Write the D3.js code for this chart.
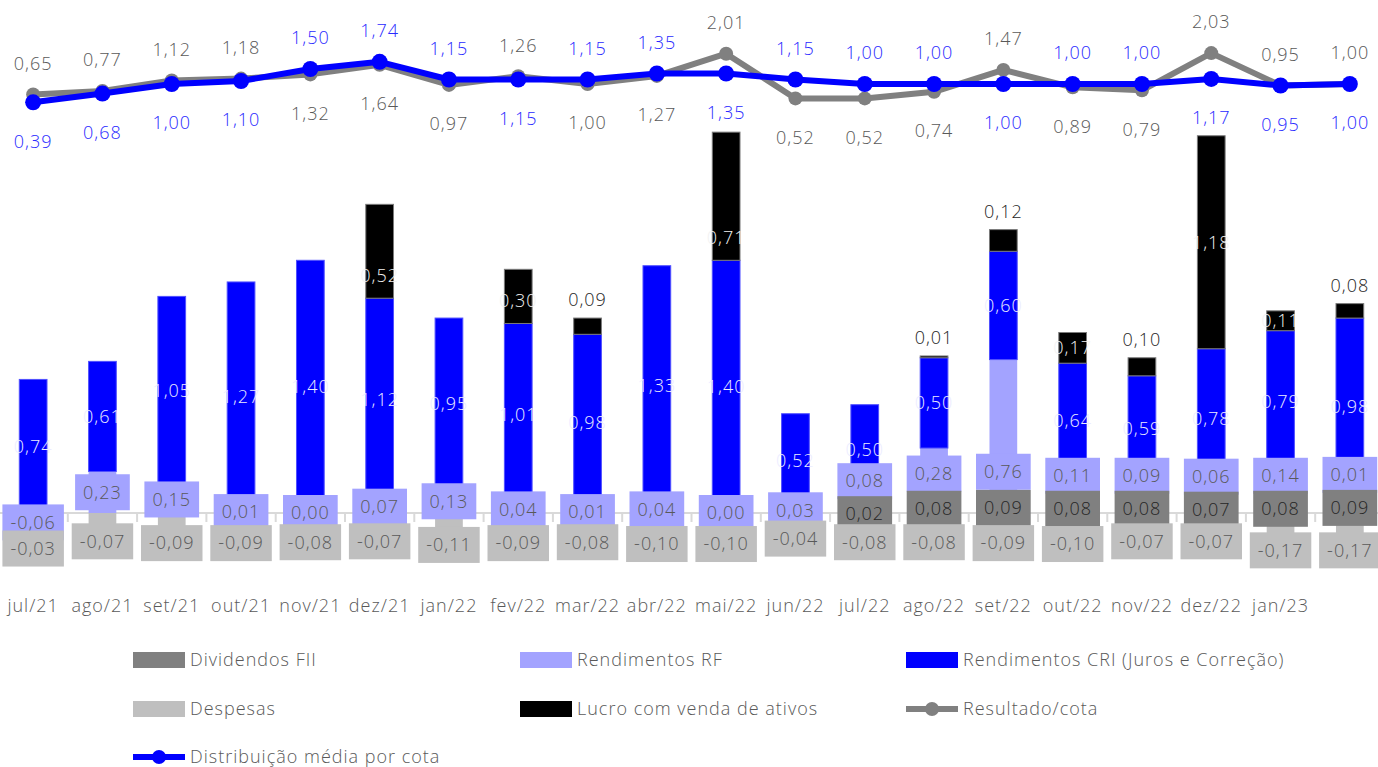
<!DOCTYPE html>
<html><head><meta charset="utf-8">
<script src="https://cdn.jsdelivr.net/npm/d3@7"></script>
<style>body{margin:0;background:#fff;} svg{display:block;font-family:'Open Sans',Lato,sans-serif;font-weight:300;letter-spacing:1px;}</style>
</head><body><svg id="c" width="1378" height="767"></svg>
<script>
const categories = ["jul/21","ago/21","set/21","out/21","nov/21","dez/21","jan/22","fev/22","mar/22","abr/22","mai/22","jun/22","jul/22","ago/22","set/22","out/22","nov/22","dez/22","jan/23","fev/23"];
const tickLabels = ["jul/21","ago/21","set/21","out/21","nov/21","dez/21","jan/22","fev/22","mar/22","abr/22","mai/22","jun/22","jul/22","ago/22","set/22","out/22","nov/22","dez/22","jan/23",""];
const dividendosFII = [null,null,null,null,null,null,null,null,null,null,null,null,0.02,0.08,0.09,0.08,0.08,0.07,0.08,0.09];
const rendimentosRF = [-0.06,0.23,0.15,0.01,0.00,0.07,0.13,0.04,0.01,0.04,0.00,0.03,0.08,0.28,0.76,0.11,0.09,0.06,0.14,0.01];
const rendimentosCRI = [0.74,0.61,1.05,1.27,1.40,1.12,0.95,1.01,0.98,1.33,1.40,0.52,0.50,0.50,0.60,0.64,0.59,0.78,0.79,0.98];
const despesas = [-0.03,-0.07,-0.09,-0.09,-0.08,-0.07,-0.11,-0.09,-0.08,-0.10,-0.10,-0.04,-0.08,-0.08,-0.09,-0.10,-0.07,-0.07,-0.17,-0.17];
const lucroVenda = [null,null,null,null,null,0.52,null,0.30,0.09,null,0.71,null,null,0.01,0.12,0.17,0.10,1.18,0.11,0.08];
const resultadoCota = [0.65,0.77,1.12,1.18,1.32,1.64,0.97,1.26,1.00,1.27,2.01,0.52,0.52,0.74,1.47,0.89,0.79,2.03,0.95,1.00];
const distribuicaoMedia = [0.39,0.68,1.00,1.10,1.50,1.74,1.15,1.15,1.15,1.35,1.35,1.15,1.00,1.00,1.00,1.00,1.00,1.17,0.95,1.00];
const lucroLabelAbove = ["mar/22","ago/22","set/22","nov/22","fev/23"];

const C = {fii:"#808080", rf:"#a3a3ff", cri:"#0000ff", desp:"#bfbfbf", lucro:"#000000", res:"#808080", dist:"#0000ff", txt:"#595959"};
const fmt = v => (v < 0 ? "-" : "") + Math.abs(v).toFixed(2).replace(".", ",");
const FS = 18;

const svg = d3.select("#c");
const x = d3.scaleBand().domain(categories).range([-1.5, 1384.5]).padding(0);
const bw = x.bandwidth() * 0.4;
const cx = c => x(c) + x.bandwidth() / 2;
const y = d3.scaleLinear().domain([0, 1]).range([513, 332.5]);
const y2 = d3.scaleLinear().domain([0, 1]).range([114, 84]);

const rows = categories.map((c, i) => ({cat: c, fii: dividendosFII[i] || 0, rf: rendimentosRF[i] || 0, cri: rendimentosCRI[i] || 0, lucro: lucroVenda[i] || 0, desp: despesas[i] || 0}));
const keys = ["fii", "rf", "cri", "lucro", "desp"];
const stack = d3.stack().keys(keys).offset(d3.stackOffsetDiverging)(rows);

// axis
svg.append("line").attr("x1", 0).attr("x2", 1378).attr("y1", y(0)).attr("y2", y(0)).attr("stroke", "#d9d9d9").attr("stroke-width", 2);
svg.append("g").selectAll("line").data(categories.slice(1)).join("line")
  .attr("x1", d => x(d)).attr("x2", d => x(d)).attr("y1", y(0)).attr("y2", y(0) + 9)
  .attr("stroke", "#d9d9d9").attr("stroke-width", 2);

// bars
const strokes = {fii: "none", rf: "none", cri: "#5050ff", lucro: "#7a7a7a", desp: "none"};
stack.forEach(s => {
  svg.append("g").selectAll("rect").data(s.filter(d => Math.abs(d[1] - d[0]) > 1e-9)).join("rect")
    .attr("x", d => cx(d.data.cat) - bw / 2).attr("width", bw)
    .attr("y", d => y(Math.max(d[0], d[1]))).attr("height", d => Math.abs(y(d[0]) - y(d[1])))
    .attr("fill", C[s.key]).attr("stroke", strokes[s.key]).attr("stroke-width", 1);
});
const seg = key => stack.find(s => s.key === key);

// CRI labels
const gl = svg.append("g").attr("font-size", FS);
seg("cri").forEach(d => {
  if (!d.data.cri) return;
  gl.append("text").attr("x", cx(d.data.cat)).attr("y", y((d[0] + d[1]) / 2)).attr("dy", "0.35em")
    .attr("text-anchor", "middle").attr("fill", "#ececff").text(fmt(d.data.cri));
});
// Lucro labels
seg("lucro").forEach(d => {
  const v = d.data.lucro; if (!v) return;
  const top = y(d[1]), base = y(d[0]), h = base - top, center = (top + base) / 2;
  if (lucroLabelAbove.includes(d.data.cat)) {
    gl.append("text").attr("x", cx(d.data.cat)).attr("y", top - 18).attr("dy", "0.35em")
      .attr("text-anchor", "middle").attr("fill", "#262626").text(fmt(v));
  } else {
    const yy = h > 150 ? center : Math.max(center, base - 23);
    gl.append("text").attr("x", cx(d.data.cat)).attr("y", yy).attr("dy", "0.35em")
      .attr("text-anchor", "middle").attr("fill", "#f2f2f2").text(fmt(v));
  }
});

function box(g, xc, yc, label, fill, color) {
  const r = g.append("rect");
  const t = g.append("text").attr("x", xc).attr("y", yc).attr("dy", "0.35em").attr("text-anchor", "middle").attr("fill", color).text(label);
  const w = t.node().getComputedTextLength() + 16;
  r.attr("x", xc - w / 2).attr("width", w).attr("y", yc - 18).attr("height", 36).attr("fill", fill);
}
const gb = svg.append("g").attr("font-size", FS);
const fiiC = {};
seg("fii").forEach(d => { if (dividendosFII[categories.indexOf(d.data.cat)] != null) fiiC[d.data.cat] = y((d[0] + d[1]) / 2) + 3; });
// RF boxes
seg("rf").forEach(d => {
  const i = categories.indexOf(d.data.cat); const v = rendimentosRF[i]; if (v == null) return;
  let c;
  if (v >= 0) {
    const segC = y((d[0] + d[1]) / 2);
    c = Math.max(segC, y(d[0]) - 25);
    if (fiiC[d.data.cat] != null) c = Math.min(c, fiiC[d.data.cat] - 33);
  } else {
    c = y((d[0] + d[1]) / 2) + 4;
  }
  box(gb.append("g"), cx(d.data.cat), c, fmt(v), C.rf, C.txt);
});
// FII boxes
Object.keys(fiiC).forEach(cat => {
  const i = categories.indexOf(cat);
  box(gb.append("g"), cx(cat), fiiC[cat], fmt(dividendosFII[i]), C.fii, "#262626");
});
// Despesas boxes
seg("desp").forEach(d => {
  const v = d.data.desp;
  const start = Math.max(d[0], d[1]), end = Math.min(d[0], d[1]);
  const c = ((y(start) + 30) + (y(end) + 14)) / 2;
  box(gb.append("g"), cx(d.data.cat), c, fmt(v), C.desp, C.txt);
});

// category labels
svg.append("g").attr("font-size", FS).selectAll("text").data(categories).join("text")
  .attr("x", d => cx(d)).attr("y", 606).attr("dy", "0.35em").attr("text-anchor", "middle").attr("fill", C.txt)
  .text((d, i) => tickLabels[i]);

// lines
const line = d3.line().x((d, i) => cx(categories[i])).y(d => y2(d));
svg.append("path").datum(resultadoCota).attr("d", line).attr("fill", "none").attr("stroke", C.res).attr("stroke-width", 6).attr("stroke-linejoin", "round");
svg.append("g").selectAll("circle").data(resultadoCota).join("circle").attr("cx", (d, i) => cx(categories[i])).attr("cy", d => y2(d)).attr("r", 7).attr("fill", C.res);
svg.append("path").datum(distribuicaoMedia).attr("d", line).attr("fill", "none").attr("stroke", C.dist).attr("stroke-width", 6).attr("stroke-linejoin", "round");
svg.append("g").selectAll("circle").data(distribuicaoMedia).join("circle").attr("cx", (d, i) => cx(categories[i])).attr("cy", d => y2(d)).attr("r", 8).attr("fill", C.dist);

const gll = svg.append("g").attr("font-size", FS).attr("text-anchor", "middle");
categories.forEach((c, i) => {
  const g = resultadoCota[i], b = distribuicaoMedia[i];
  const gAbove = g >= b;
  gll.append("text").attr("x", cx(c)).attr("y", gAbove ? y2(g) - 31 : y2(g) + 39).attr("dy", "0.35em").attr("fill", C.txt).text(fmt(g));
  gll.append("text").attr("x", cx(c)).attr("y", gAbove ? y2(b) + 39 : y2(b) - 31).attr("dy", "0.35em").attr("fill", "#2a2aff").text(fmt(b));
});

// legend
const legendItems = [
  {name: "Dividendos FII", type: "rect", color: C.fii, col: 0, row: 0},
  {name: "Rendimentos RF", type: "rect", color: C.rf, col: 1, row: 0},
  {name: "Rendimentos CRI (Juros e Correção)", type: "rect", color: C.cri, col: 2, row: 0},
  {name: "Despesas", type: "rect", color: C.desp, col: 0, row: 1},
  {name: "Lucro com venda de ativos", type: "rect", color: C.lucro, col: 1, row: 1},
  {name: "Resultado/cota", type: "line", color: C.res, col: 2, row: 1},
  {name: "Distribuição média por cota", type: "line", color: C.dist, col: 0, row: 2}
];
const colX = [133, 520, 906], rowY = [660, 709, 757];
const lg = svg.append("g").attr("font-size", FS);
legendItems.forEach(it => {
  const lx = colX[it.col], ly = rowY[it.row];
  if (it.type === "rect") {
    lg.append("rect").attr("x", lx).attr("y", ly - 8).attr("width", 52).attr("height", 16).attr("fill", it.color);
  } else {
    lg.append("line").attr("x1", lx).attr("x2", lx + 52).attr("y1", ly).attr("y2", ly).attr("stroke", it.color).attr("stroke-width", 6);
    lg.append("circle").attr("cx", lx + 26).attr("cy", ly).attr("r", 7).attr("fill", it.color);
  }
  lg.append("text").attr("x", lx + 57).attr("y", ly).attr("dy", "0.35em").attr("fill", C.txt).text(it.name);
});
</script></body></html>
